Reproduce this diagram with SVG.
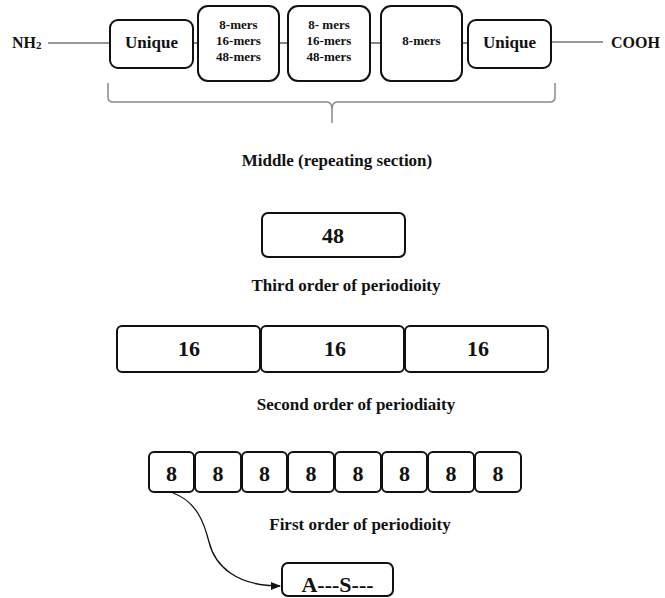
<svg xmlns="http://www.w3.org/2000/svg" width="665" height="598" viewBox="0 0 665 598">
  <style>
    .box { fill: #fff; stroke: #111; stroke-width: 2; }
    .t { font-family: "Liberation Serif", "Times New Roman", serif; font-weight: bold; fill: #111; }
    .c { text-anchor: middle; }
    .wire { stroke: #333; stroke-width: 1.2; fill: none; }
    .brace { stroke: #8a8a8a; stroke-width: 1.5; fill: none; }
    .link { stroke: #111; stroke-width: 1.3; fill: none; }
  </style>
  <defs>
    <marker id="arrow" markerWidth="10" markerHeight="8" refX="9" refY="4" orient="auto" markerUnits="userSpaceOnUse">
      <path d="M0,0 L10,4 L0,8 Z" fill="#111"/>
    </marker>
  </defs>
  <rect width="665" height="598" fill="#fff"/>

  <!-- connectors -->
  <g id="connectors">
    <line class="wire" x1="48" y1="43" x2="110" y2="43"/>
    <line class="wire" x1="193" y1="43" x2="198" y2="43"/>
    <line class="wire" x1="279" y1="43" x2="288" y2="43"/>
    <line class="wire" x1="370" y1="43" x2="381" y2="43"/>
    <line class="wire" x1="462" y1="43" x2="468" y2="43"/>
    <line class="wire" x1="551" y1="42" x2="603" y2="42"/>
    <path class="brace" d="M108,83 L108,97 Q108,102 113,102 L327,102 Q332,102 332,110 L332,123 M332,110 Q332,102 337,102 L550,102 Q555,102 555,97 L555,83"/>
    <path class="link" marker-end="url(#arrow)" d="M173,493 C196,501 204,522 209,542 C215,566 236,586 280,586"/>
  </g>

  <!-- terminals -->
  <g id="nh2">
    <text class="t" x="12" y="48" font-size="16">NH<tspan font-size="11" dy="1">2</tspan></text>
  </g>
  <g id="cooh">
    <text class="t" x="611" y="48" font-size="16">COOH</text>
  </g>

  <!-- protein sequence blocks -->
  <g id="unique-n">
    <rect class="box" x="110" y="20" width="83" height="48" rx="8"/>
    <text class="t c" x="151.5" y="48" font-size="17">Unique</text>
  </g>
  <g id="repeat-1">
    <rect class="box" x="198" y="6" width="81" height="75" rx="10"/>
    <text class="t c" x="238.5" y="28.5" font-size="13">8-mers</text>
    <text class="t c" x="238.5" y="44.5" font-size="13">16-mers</text>
    <text class="t c" x="238.5" y="60.5" font-size="13">48-mers</text>
  </g>
  <g id="repeat-2">
    <rect class="box" x="288" y="6" width="82" height="75" rx="10"/>
    <text class="t c" x="329" y="28.5" font-size="13">8- mers</text>
    <text class="t c" x="329" y="44.5" font-size="13">16-mers</text>
    <text class="t c" x="329" y="60.5" font-size="13">48-mers</text>
  </g>
  <g id="repeat-3">
    <rect class="box" x="381" y="6" width="81" height="75" rx="10"/>
    <text class="t c" x="421.5" y="45" font-size="13">8-mers</text>
  </g>
  <g id="unique-c">
    <rect class="box" x="468" y="20" width="83" height="48" rx="8"/>
    <text class="t c" x="509.5" y="48" font-size="17">Unique</text>
  </g>

  <g id="middle-label">
    <text class="t c" x="337" y="166" font-size="17">Middle (repeating section)</text>
  </g>

  <!-- third order -->
  <g id="p48">
    <rect class="box" x="262" y="213" width="143" height="44" rx="6"/>
    <text class="t c" x="333" y="243" font-size="22">48</text>
  </g>
  <g id="third-label">
    <text class="t c" x="346" y="291" font-size="17">Third order of periodioity</text>
  </g>

  <!-- second order -->
  <g id="p16-a">
    <rect class="box" x="117" y="326" width="143" height="46" rx="5"/>
    <text class="t c" x="189" y="356" font-size="22">16</text>
  </g>
  <g id="p16-b">
    <rect class="box" x="261" y="326" width="143" height="46" rx="5"/>
    <text class="t c" x="335" y="356" font-size="22">16</text>
  </g>
  <g id="p16-c">
    <rect class="box" x="405" y="326" width="143" height="46" rx="5"/>
    <text class="t c" x="478" y="356" font-size="22">16</text>
  </g>
  <g id="second-label">
    <text class="t c" x="356" y="410" font-size="17">Second order of periodiaity</text>
  </g>

  <!-- first order -->
  <g id="p8-1"><rect class="box" x="149" y="452" width="45" height="40" rx="5"/><text class="t c" x="171.5" y="481" font-size="22">8</text></g>
  <g id="p8-2"><rect class="box" x="195" y="452" width="46" height="40" rx="5"/><text class="t c" x="218" y="481" font-size="22">8</text></g>
  <g id="p8-3"><rect class="box" x="242" y="452" width="45" height="40" rx="5"/><text class="t c" x="264.5" y="481" font-size="22">8</text></g>
  <g id="p8-4"><rect class="box" x="288" y="452" width="46" height="40" rx="5"/><text class="t c" x="311" y="481" font-size="22">8</text></g>
  <g id="p8-5"><rect class="box" x="335" y="452" width="46" height="40" rx="5"/><text class="t c" x="358" y="481" font-size="22">8</text></g>
  <g id="p8-6"><rect class="box" x="382" y="452" width="45" height="40" rx="5"/><text class="t c" x="404.5" y="481" font-size="22">8</text></g>
  <g id="p8-7"><rect class="box" x="428" y="452" width="46" height="40" rx="5"/><text class="t c" x="451" y="481" font-size="22">8</text></g>
  <g id="p8-8"><rect class="box" x="475" y="452" width="46" height="40" rx="5"/><text class="t c" x="498" y="481" font-size="22">8</text></g>
  <g id="first-label">
    <text class="t c" x="360" y="530" font-size="17">First order of periodioity</text>
  </g>

  <!-- motif -->
  <g id="motif">
    <rect class="box" x="282" y="563" width="111" height="33" rx="6"/>
    <text class="t c" x="337.5" y="592" font-size="22">A---S---</text>
  </g>
</svg>
